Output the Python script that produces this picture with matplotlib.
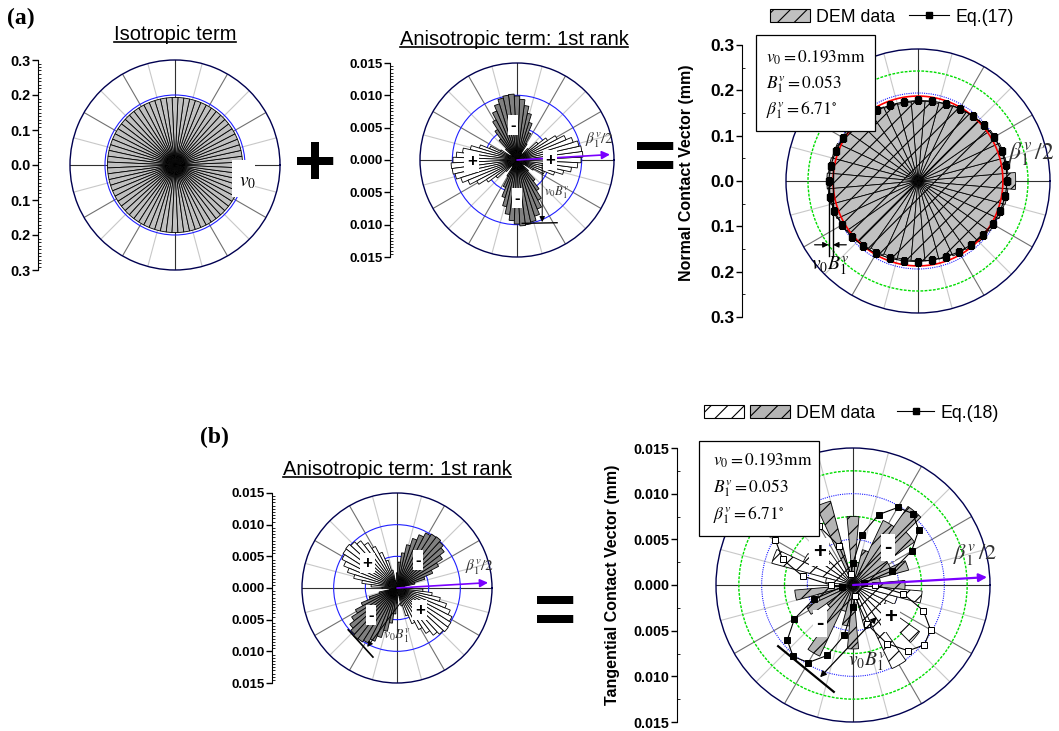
import numpy as np
import matplotlib
matplotlib.use("Agg")
import matplotlib.pyplot as plt
from matplotlib.patches import Patch, Rectangle
from matplotlib.lines import Line2D
from matplotlib.ticker import AutoMinorLocator, FuncFormatter

plt.rcParams["font.family"] = ["Liberation Sans", "DejaVu Sans"]
plt.rcParams["mathtext.fontset"] = "stix"
plt.rcParams["hatch.linewidth"] = 0.8

# fitted parameters shown in the boxes
v0 = 0.193
B1 = 0.053
beta1 = 6.71

# isotropic term: 72 bins of 5 deg, all equal to v0
iso_r = np.full(72, v0)

# 1st rank anisotropic terms, 5 deg bins starting at 0 deg (sign: + white, - gray)
aniso_normal = [0.0099, 0.0102, 0.0101, 0.0098, 0.0091, 0.0082, 0.0070, 0.0056, 0.0041,
                0.0024, 0.0006, -0.0012, -0.0029, -0.0046, -0.0061, -0.0074, -0.0085, -0.0094,
                -0.0099, -0.0102, -0.0101, -0.0098, -0.0091, -0.0082, -0.0070, -0.0056, -0.0041,
                -0.0024, -0.0006, 0.0012, 0.0029, 0.0046, 0.0061, 0.0074, 0.0085, 0.0094,
                0.0099, 0.0102, 0.0101, 0.0098, 0.0091, 0.0082, 0.0070, 0.0056, 0.0041,
                0.0024, 0.0006, -0.0012, -0.0029, -0.0046, -0.0061, -0.0074, -0.0085, -0.0094,
                -0.0099, -0.0102, -0.0101, -0.0098, -0.0091, -0.0082, -0.0070, -0.0056, -0.0041,
                -0.0024, -0.0006, 0.0012, 0.0029, 0.0046, 0.0061, 0.0074, 0.0085, 0.0094]
aniso_tang = [0.0024, 0.0006, -0.0012, -0.0029, -0.0046, -0.0061, -0.0074, -0.0085, -0.0094,
              -0.0099, -0.0102, -0.0101, -0.0098, -0.0091, -0.0082, -0.0070, -0.0056, -0.0041,
              -0.0024, -0.0006, 0.0012, 0.0029, 0.0046, 0.0061, 0.0074, 0.0085, 0.0094,
              0.0099, 0.0102, 0.0101, 0.0098, 0.0091, 0.0082, 0.0070, 0.0056, 0.0041,
              0.0024, 0.0006, -0.0012, -0.0029, -0.0046, -0.0061, -0.0074, -0.0085, -0.0094,
              -0.0099, -0.0102, -0.0101, -0.0098, -0.0091, -0.0082, -0.0070, -0.0056, -0.0041,
              -0.0024, -0.0006, 0.0012, 0.0029, 0.0046, 0.0061, 0.0074, 0.0085, 0.0094,
              0.0099, 0.0102, 0.0101, 0.0098, 0.0091, 0.0082, 0.0070, 0.0056, 0.0041]

# DEM data, 10 deg bins starting at 0 deg
normal_dem = [0.222, 0.205, 0.204, 0.201, 0.196, 0.192, 0.189, 0.185, 0.182,
              0.181, 0.180, 0.182, 0.186, 0.190, 0.193, 0.198, 0.202, 0.204,
              0.207, 0.205, 0.203, 0.199, 0.195, 0.190, 0.186, 0.183, 0.181,
              0.181, 0.182, 0.184, 0.188, 0.192, 0.196, 0.199, 0.203, 0.205]
tang_dem = [-0.0057, -0.0030, -0.0063, -0.0045, -0.0082, -0.0105, -0.0078, -0.0040, -0.0025,
            -0.0075, -0.0020, -0.0095, 0.0030, 0.0050, 0.0035, 0.0060, 0.0092, 0.0030,
            0.0015, -0.0064, -0.0040, -0.0056, -0.0035, -0.0050, -0.0086, -0.0030, -0.0045,
            -0.0070, 0.0020, 0.0050, 0.0101, 0.0060, 0.0089, 0.0040, 0.0050, 0.0076]

# fitted curves, every 10 deg
eq17 = [0.2030, 0.2032, 0.2021, 0.2000, 0.1971, 0.1936, 0.1901, 0.1869, 0.1845,
        0.1830, 0.1828, 0.1839, 0.1860, 0.1889, 0.1924, 0.1959, 0.1991, 0.2015,
        0.2030, 0.2032, 0.2021, 0.2000, 0.1971, 0.1936, 0.1901, 0.1869, 0.1845,
        0.1830, 0.1828, 0.1839, 0.1860, 0.1889, 0.1924, 0.1959, 0.1991, 0.2015]
eq18 = [0.0024, -0.0012, -0.0046, -0.0074, -0.0094, -0.0102, -0.0098, -0.0082, -0.0056,
        -0.0024, 0.0012, 0.0046, 0.0074, 0.0094, 0.0102, 0.0098, 0.0082, 0.0056,
        0.0024, -0.0012, -0.0046, -0.0074, -0.0094, -0.0102, -0.0098, -0.0082, -0.0056,
        -0.0024, 0.0012, 0.0046, 0.0074, 0.0094, 0.0102, 0.0098, 0.0082, 0.0056]

W, H = 1059, 731
fig = plt.figure(figsize=(W / 100, H / 100), dpi=100)

GRAY = "#c0c0c0"
DARK = "#808080"
PURPLE = "#7a00ff"
SERIF = ["Liberation Serif", "DejaVu Serif"]
HATCH = "//"


def box(cx, cy, r):
    return [(cx - r) / W, 1 - (cy + r) / H, 2 * r / W, 2 * r / H]


def polar_panel(cx, cy, rpx, rmax, blue, green=(), ls="-"):
    ax = fig.add_axes(box(cx, cy, rpx), projection="polar")
    ax.set_ylim(0, rmax)
    ax.set_xticks(np.radians(np.arange(0, 360, 30)))
    ax.set_xticks(np.radians(np.arange(15, 360, 30)), minor=True)
    ax.set_yticks(blue)
    ax.set_yticks(list(green), minor=True)
    ax.set_xticklabels([])
    ax.set_yticklabels([])
    ax.tick_params(which="both", length=0)
    ax.xaxis.grid(True, which="major", color="#707070", lw=0.8)
    ax.xaxis.grid(True, which="minor", color="#c8c8c8", lw=0.8)
    ax.yaxis.grid(True, which="major", color="#2020ff", lw=0.8, ls=ls)
    ax.yaxis.grid(True, which="minor", color="#00dd00", lw=1.0, ls=(0, (2, 1)))
    for i, t in enumerate(ax.xaxis.get_major_ticks()):
        if i % 3 == 0:
            t.gridline.set_color("#303030")
    ax.spines["polar"].set_color("#000050")
    ax.spines["polar"].set_linewidth(1.0)
    ax.set_axisbelow(True)
    # cartesian overlay for annotations
    ov = fig.add_axes(box(cx, cy, rpx))
    ov.set_xlim(-rmax, rmax)
    ov.set_ylim(-rmax, rmax)
    ov.axis("off")
    return ax, ov


def scale_axis(x, cy, rpx, lim, step, nminor, fmt, size):
    ax = fig.add_axes([x / W, 1 - (cy + rpx) / H, 0.0001, 2 * rpx / H])
    ax.set_ylim(-lim, lim)
    ax.set_yticks(np.arange(-lim, lim + step / 2, step))
    ax.yaxis.set_minor_locator(AutoMinorLocator(nminor))
    ax.yaxis.set_major_formatter(FuncFormatter(lambda v, p: fmt.format(abs(v))))
    for s in ["top", "right", "bottom"]:
        ax.spines[s].set_visible(False)
    ax.set_xticks([])
    ax.patch.set_visible(False)
    ax.tick_params(axis="y", which="major", direction="out", length=4, width=1, pad=1.5,
                   labelsize=size)
    ax.tick_params(axis="y", which="minor", direction="in", length=2, width=0.6)
    for lab in ax.get_yticklabels():
        lab.set_fontweight("bold")
    return ax


def sign_box(ov, x, y, s, size):
    ov.text(x, y, s, ha="center", va="center", fontsize=size, fontweight="bold",
            bbox=dict(boxstyle="square,pad=0.15", fc="white", ec="none"))


def beta_arrow(ax, r, lw=1.4):
    ax.annotate("", xy=(np.radians(beta1 / 2), r), xytext=(0, 0),
                arrowprops=dict(arrowstyle="-|>", color=PURPLE, lw=lw, mutation_scale=12,
                                shrinkA=0, shrinkB=0))


def hatched(bars, pattern=HATCH):
    for b in bars:
        b.set_hatch(pattern)
        b.set_edgecolor("k")


th5 = np.radians(np.arange(0, 360, 5))
th10 = np.radians(np.arange(0, 360, 10))
titles = []

# ---------------- (a) isotropic term ----------------
ax1, ov1 = polar_panel(175, 165, 105, 0.3, [0.1, 0.2])
ax1.bar(th5, iso_r, width=np.radians(5), color=GRAY, edgecolor="k", lw=0.6)
scale_axis(38, 165, 105, 0.3, 0.1, 10, "{:.1f}", 10.4)
ov1.add_patch(Rectangle((0.163, -0.091), 0.066, 0.105, fc="white", ec="none"))
ov1.text(0.206, -0.05, r"$v_0$", fontsize=14, ha="center", va="center")
titles.append((fig.text(175 / W, 1 - 40 / H, "Isotropic term", ha="center", va="baseline",
                        fontsize=14.5), 42))

# ---------------- (a) anisotropic 1st rank ----------------
ax2, ov2 = polar_panel(517, 160, 97, 0.015, [0.005, 0.010])
ax2.bar(th5, np.abs(aniso_normal), width=np.radians(5),
        color=["white" if v > 0 else DARK for v in aniso_normal], edgecolor="k", lw=0.6)
scale_axis(390, 160, 97, 0.015, 0.005, 10, "{:.3f}", 9.5)
beta_arrow(ax2, 0.0144, lw=1.2)
ov2.text(0.0128, 0.0030, r"$\beta_1^v/2$", fontsize=11, color="#333333", ha="center", va="center")
sign_box(ov2, -0.0006, 0.0054, "-", 12)
sign_box(ov2, 0.0000, -0.0059, "-", 12)
sign_box(ov2, -0.0070, -0.0003, "+", 12)
sign_box(ov2, 0.0051, 0.0000, "+", 12)
ov2.annotate("", xy=(0.0039, -0.0096), xytext=(0.0039, -0.0005),
             arrowprops=dict(arrowstyle="-|>", color="k", lw=0.7, mutation_scale=8,
                             shrinkA=0, shrinkB=0))
ov2.plot([0.0008, 0.0062], [-0.0098, -0.0097], color="k", lw=1.0)
ov2.text(0.0062, -0.0051, r"$v_0B_1^v$", fontsize=9, color="#333333", ha="center", va="center")
titles.append((fig.text(514 / W, 1 - 45 / H, "Anisotropic term: 1st rank", ha="center",
                        va="baseline", fontsize=14.5), 47))

# ---------------- (a) normal contact vector ----------------
ax3, ov3 = polar_panel(918, 181, 132, 0.3, [0.1, 0.2], [0.05, 0.15, 0.25], ls=(0, (1, 1)))
bars3 = ax3.bar(th10, normal_dem, width=np.radians(10), facecolor=GRAY, lw=0.6)
hatched(bars3)
ring = np.linspace(0, 2 * np.pi, 300)
ax3.plot(ring, np.full(ring.size, v0), color="red", lw=1.2)
ax3.plot(np.append(th10, th10[0]), np.append(eq17, eq17[0]), color="k", lw=0.8,
         marker="s", ms=4.5)
scale_axis(742, 181, 136, 0.3, 0.1, 2, "{:.1f}", 12.5)
beta_arrow(ax3, 0.305, lw=1.6)
ov3.text(0.311, 0.06, r"$\beta_1^v\,/2$", fontsize=17, ha="right", va="center", color="#333333")
x_out = -v0 * (1 + B1)
ov3.plot([x_out, x_out], [0.0, -0.17], color="k", lw=1.0)
ov3.plot([-v0, -v0], [0.03, -0.17], color="k", lw=1.0)
ov3.annotate("", xy=(x_out, -0.145), xytext=(-0.235, -0.145),
             arrowprops=dict(arrowstyle="-|>", color="k", lw=0.9, mutation_scale=8,
                             shrinkA=0, shrinkB=0))
ov3.annotate("", xy=(-v0, -0.145), xytext=(-0.163, -0.145),
             arrowprops=dict(arrowstyle="-|>", color="k", lw=0.9, mutation_scale=8,
                             shrinkA=0, shrinkB=0))
ov3.text(-0.200, -0.192, r"$v_0B_1^v$", fontsize=14, ha="center", va="center")
fig.text(687 / W, 1 - 173 / H, "Normal Contact Vector (mm)", rotation=90, fontsize=11.5,
         fontweight="bold", ha="center", va="center")

# parameter box (a)
fig.add_artist(Rectangle((756 / W, 1 - 131 / H), 119 / W, 96 / H, transform=fig.transFigure,
                         fc="white", ec="k", lw=0.9))
for txt, y in [(r"$v_0 = 0.193\mathrm{mm}$", 58), (r"$B_1^v = 0.053$", 84),
               (r"$\beta_1^v = 6.71^{\circ}$", 110)]:
    fig.text(766 / W, 1 - y / H, txt, fontsize=12.5, ha="left", va="center")

leg_a = [Patch(facecolor=GRAY, edgecolor="k", hatch=HATCH, lw=0.8),
         Line2D([], [], color="k", lw=0.8, marker="s", ms=4.5)]
fig.legend(leg_a, ["DEM data", "Eq.(17)"], loc="center left",
           bbox_to_anchor=(770 / W, 1 - 17 / H), ncol=2, frameon=False, fontsize=12.8,
           handlelength=2.25, handleheight=0.8, handletextpad=0.35, columnspacing=0.8,
           borderpad=0, borderaxespad=0)

# ---------------- (b) anisotropic 1st rank ----------------
ax4, ov4 = polar_panel(397, 588, 95, 0.015, [0.005, 0.010])
ax4.bar(th5, np.abs(aniso_tang), width=np.radians(5),
        color=["white" if v > 0 else DARK for v in aniso_tang], edgecolor="k", lw=0.6)
scale_axis(272, 588, 95, 0.015, 0.005, 10, "{:.3f}", 9.5)
beta_arrow(ax4, 0.0144, lw=1.2)
ov4.text(0.0131, 0.0033, r"$\beta_1^v/2$", fontsize=11, color="#333333", ha="center", va="center")
sign_box(ov4, -0.0047, 0.0039, "+", 12)
sign_box(ov4, 0.0033, 0.0044, "-", 12)
sign_box(ov4, -0.0041, -0.0043, "-", 12)
sign_box(ov4, 0.0036, -0.0035, "+", 12)
ov4.annotate("", xy=(-0.0047, -0.0093), xytext=(0.0005, -0.0024),
             arrowprops=dict(arrowstyle="-|>", color="k", lw=0.7, mutation_scale=8,
                             shrinkA=0, shrinkB=0))
ov4.plot([-0.0077, -0.0038], [-0.0066, -0.0109], color="k", lw=1.2)
ov4.text(-0.0022, -0.0076, r"$v_0B_1^v$", fontsize=10, color="#333333", ha="left", va="center")
titles.append((fig.text(397 / W, 1 - 475 / H, "Anisotropic term: 1st rank", ha="center",
                        va="baseline", fontsize=14.5), 477))

# ---------------- (b) tangential contact vector ----------------
ax5, ov5 = polar_panel(853, 585, 137, 0.015, [0.005, 0.010], [0.0025, 0.0075, 0.0125],
                       ls=(0, (1, 1)))
bars5 = ax5.bar(th10, np.abs(tang_dem), width=np.radians(10),
                color=["white" if v > 0 else "#b4b4b4" for v in tang_dem], lw=0.6)
hatched(bars5)
ax5.plot(np.append(th10, th10[0]), np.abs(np.append(eq18, eq18[0])), color="k", lw=0.8)
pos = np.array(eq18) > 0
ax5.plot(th10[pos], np.array(eq18)[pos], ls="none", marker="s", ms=4.5, mfc="white",
         mec="k", mew=0.7)
ax5.plot(th10[~pos], -np.array(eq18)[~pos], ls="none", marker="s", ms=4.5, mfc="k",
         mec="k", mew=0.7)
scale_axis(677, 585, 137, 0.015, 0.005, 2, "{:.3f}", 10.3)
beta_arrow(ax5, 0.0147, lw=1.6)
ov5.text(0.0134, 0.0033, r"$\beta_1^v\,/2$", fontsize=16, ha="center", va="center", color="#333333")
sign_box(ov5, -0.0037, 0.0036, "+", 16)
sign_box(ov5, 0.0038, 0.0041, "-", 16)
sign_box(ov5, -0.0036, -0.0042, "-", 16)
sign_box(ov5, 0.0041, -0.0036, "+", 16)
ov5.annotate("", xy=(-0.0036, -0.0101), xytext=(0.0026, -0.0035),
             arrowprops=dict(arrowstyle="<|-|>", color="k", lw=0.9, mutation_scale=9,
                             shrinkA=0, shrinkB=0))
ov5.plot([-0.0082, -0.0021], [-0.0067, -0.0117], color="k", lw=1.6)
ov5.text(0.0015, -0.0084, r"$v_0B_1^v$", fontsize=14, ha="center", va="center", color="#222222")
fig.text(613 / W, 1 - 585 / H, "Tangential Contact Vector (mm)", rotation=90, fontsize=11.5,
         fontweight="bold", ha="center", va="center")

# parameter box (b)
fig.add_artist(Rectangle((699 / W, 1 - 536 / H), 120 / W, 95 / H, transform=fig.transFigure,
                         fc="white", ec="k", lw=0.9))
for txt, y in [(r"$v_0 = 0.193\mathrm{mm}$", 461), (r"$B_1^v = 0.053$", 488),
               (r"$\beta_1^v = 6.71^{\circ}$", 515)]:
    fig.text(713 / W, 1 - y / H, txt, fontsize=12.5, ha="left", va="center")

leg_b1 = [Patch(facecolor="white", edgecolor="k", hatch=HATCH, lw=0.8),
          Patch(facecolor="#b4b4b4", edgecolor="k", hatch=HATCH, lw=0.8)]
fig.legend(leg_b1, ["", "DEM data"], loc="center left",
           bbox_to_anchor=(704 / W, 1 - 413 / H), ncol=2, frameon=False, fontsize=12.8,
           handlelength=2.25, handleheight=0.8, handletextpad=0.35, columnspacing=0.0,
           borderpad=0, borderaxespad=0)
fig.legend([Line2D([], [], color="k", lw=0.8, marker="s", ms=4.5)], ["Eq.(18)"],
           loc="center left", bbox_to_anchor=(897 / W, 1 - 413 / H), frameon=False,
           fontsize=12.8, handlelength=2.1, handletextpad=0.35, borderpad=0, borderaxespad=0)

# big operators and panel labels
fig.text(315 / W, 1 - 166 / H, "+", fontsize=52, fontweight="bold", ha="center", va="center")
fig.text(655 / W, 1 - 160 / H, "=", fontsize=52, fontweight="bold", ha="center", va="center")
fig.text(555 / W, 1 - 614 / H, "=", fontsize=52, fontweight="bold", ha="center", va="center")
fig.text(7 / W, 1 - 24 / H, "(a)", fontsize=17, fontweight="bold", family=SERIF, ha="left",
         va="baseline")
fig.text(200 / W, 1 - 443 / H, "(b)", fontsize=17, fontweight="bold", family=SERIF, ha="left",
         va="baseline")

# underline the titles
fig.canvas.draw()
for t, uy in titles:
    bb = t.get_window_extent()
    fig.add_artist(Line2D([bb.x0 / W, bb.x1 / W], [1 - uy / H, 1 - uy / H],
                          transform=fig.transFigure, color="k", lw=1.2))

fig.savefig("out.png", dpi=100)
